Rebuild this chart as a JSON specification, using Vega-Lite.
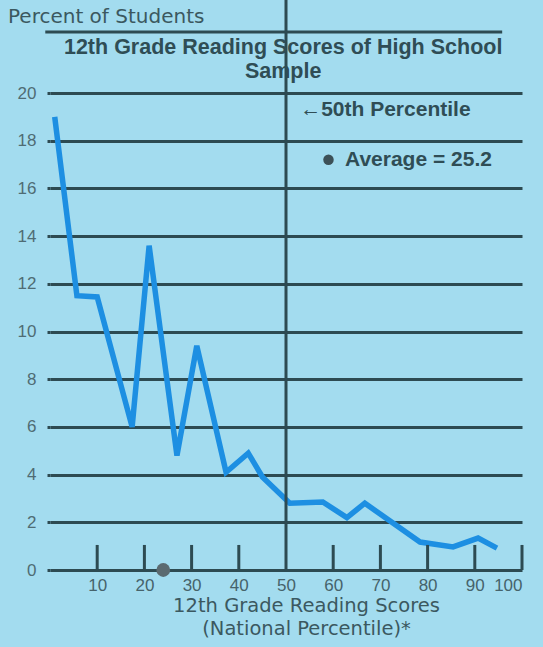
{
  "$schema": "https://vega.github.io/schema/vega-lite/v6.json",
  "autosize": {"type": "none"},
  "width": 472,
  "height": 477,
  "padding": {"left": 50, "top": 93, "right": 21, "bottom": 77},
  "background": "#a3dcef",
  "config": {"view": {"stroke": null}, "font": "Liberation Sans"},
  "layer": [
    {
      "data": {"values": [
        {"score": 1, "pct": 19.0},
        {"score": 5.7, "pct": 11.5},
        {"score": 10, "pct": 11.45},
        {"score": 17.4, "pct": 6.0},
        {"score": 21, "pct": 13.6},
        {"score": 26.9, "pct": 4.8},
        {"score": 31.1, "pct": 9.4},
        {"score": 37.3, "pct": 4.1},
        {"score": 42, "pct": 4.9},
        {"score": 45, "pct": 3.9},
        {"score": 50.8, "pct": 2.8},
        {"score": 57.8, "pct": 2.85},
        {"score": 62.9, "pct": 2.2},
        {"score": 66.7, "pct": 2.8},
        {"score": 78.4, "pct": 1.17},
        {"score": 85.4, "pct": 0.97},
        {"score": 90.7, "pct": 1.34},
        {"score": 94.7, "pct": 0.92}
      ]},
      "mark": {"type": "line", "color": "#1d8fe2", "strokeWidth": 5.5, "strokeJoin": "miter", "strokeCap": "butt"},
      "encoding": {
        "x": {
          "field": "score", "type": "quantitative",
          "scale": {"domain": [0, 100], "nice": false, "zero": false},
          "axis": {
            "values": [10, 20, 30, 40, 50, 60, 70, 80, 90, 100],
            "grid": false, "domain": false, "ticks": false,
            "labelPadding": 7, "labelFontSize": 17, "labelColor": "#46636b",
            "title": ["12th Grade Reading Scores", "(National Percentile)*"],
            "titleFont": "DejaVu Sans",
            "titleFontSize": 19.5, "titleFontWeight": "normal", "titleColor": "#3b5860",
            "titleX": 256, "titlePadding": 3, "titleLineHeight": 23
          }
        },
        "y": {
          "field": "pct", "type": "quantitative",
          "scale": {"domain": [0, 20], "nice": false},
          "axis": {
            "values": [0, 2, 4, 6, 8, 10, 12, 14, 16, 18, 20],
            "grid": true, "gridColor": "#2d4b52", "gridWidth": 3, "gridOpacity": 1,
            "tickSize": 3, "tickColor": "#2d4b52", "tickWidth": 3,
            "domain": false,
            "labelFontSize": 17, "labelColor": "#4f6c74", "labelPadding": 11,
            "title": null
          }
        }
      }
    },
    {
      "data": {"values": [{}]},
      "mark": {"type": "rule", "color": "#2d4b52", "strokeWidth": 3},
      "encoding": {
        "x": {"datum": 50, "type": "quantitative"},
        "y": {"datum": 0, "type": "quantitative"},
        "y2": {"datum": 26}
      }
    },
    {
      "data": {"values": [{}]},
      "mark": {"type": "rule", "color": "#2d4b52", "strokeWidth": 3},
      "encoding": {
        "x": {"datum": -1, "type": "quantitative"},
        "x2": {"datum": 95.8},
        "y": {"datum": 22.56, "type": "quantitative"}
      }
    },
    {
      "data": {"values": [
        {"tick": 10}, {"tick": 20}, {"tick": 30}, {"tick": 40},
        {"tick": 60}, {"tick": 70}, {"tick": 80}, {"tick": 90}, {"tick": 100}
      ]},
      "mark": {"type": "rule", "color": "#2d4b52", "strokeWidth": 3},
      "encoding": {
        "x": {"field": "tick", "type": "quantitative"},
        "y": {"datum": 0, "type": "quantitative"},
        "y2": {"datum": 1.05}
      }
    },
    {
      "data": {"values": [{}]},
      "mark": {"type": "point", "filled": true, "color": "#5b6a70", "opacity": 1, "size": 190},
      "encoding": {
        "x": {"datum": 24, "type": "quantitative"},
        "y": {"datum": 0, "type": "quantitative"}
      }
    },
    {
      "data": {"values": [{}]},
      "mark": {"type": "point", "filled": true, "color": "#3c5057", "opacity": 1, "size": 110},
      "encoding": {
        "x": {"datum": 59, "type": "quantitative"},
        "y": {"datum": 17.2, "type": "quantitative"}
      }
    },
    {
      "data": {"values": [{}]},
      "mark": {"type": "text", "align": "left", "baseline": "middle", "fontSize": 21, "fontWeight": "bold", "color": "#2f4d55"},
      "encoding": {
        "x": {"datum": 53, "type": "quantitative"},
        "y": {"datum": 19.3, "type": "quantitative"},
        "text": {"value": "←50th Percentile"}
      }
    },
    {
      "data": {"values": [{}]},
      "mark": {"type": "text", "align": "left", "baseline": "middle", "fontSize": 21, "fontWeight": "bold", "color": "#2f4d55"},
      "encoding": {
        "x": {"datum": 62.5, "type": "quantitative"},
        "y": {"datum": 17.2, "type": "quantitative"},
        "text": {"value": "Average = 25.2"}
      }
    },
    {
      "data": {"values": [{}]},
      "mark": {"type": "text", "align": "center", "baseline": "middle", "fontSize": 21.5, "fontWeight": "bold", "color": "#2f4d55"},
      "encoding": {
        "x": {"datum": 49.4, "type": "quantitative"},
        "y": {"datum": 21.89, "type": "quantitative"},
        "text": {"value": "12th Grade Reading Scores of High School"}
      }
    },
    {
      "data": {"values": [{}]},
      "mark": {"type": "text", "align": "center", "baseline": "middle", "fontSize": 21.5, "fontWeight": "bold", "color": "#2f4d55"},
      "encoding": {
        "x": {"datum": 49.4, "type": "quantitative"},
        "y": {"datum": 20.88, "type": "quantitative"},
        "text": {"value": "Sample"}
      }
    },
    {
      "data": {"values": [{}]},
      "mark": {"type": "text", "align": "left", "baseline": "middle", "fontSize": 20, "font": "DejaVu Sans", "color": "#3b5860"},
      "encoding": {
        "x": {"datum": -8.9, "type": "quantitative"},
        "y": {"datum": 23.19, "type": "quantitative"},
        "text": {"value": "Percent of Students"}
      }
    }
  ]
}
